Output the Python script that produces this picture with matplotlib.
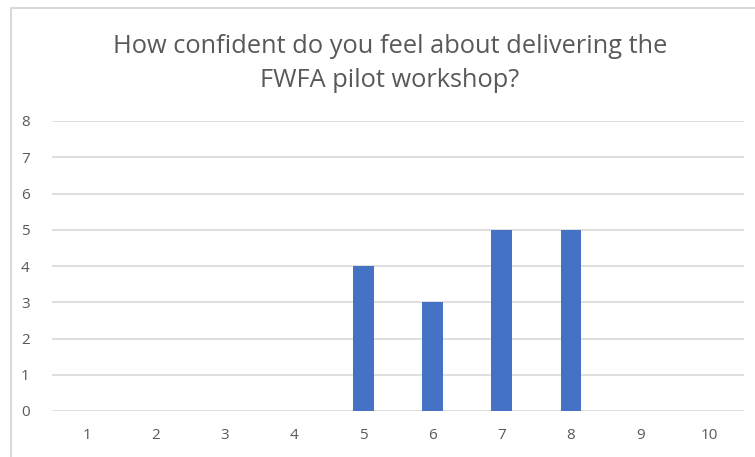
import matplotlib
matplotlib.use("Agg")
import matplotlib.pyplot as plt
from matplotlib.patches import Rectangle

categories = ["1", "2", "3", "4", "5", "6", "7", "8", "9", "10"]
counts = [0, 0, 0, 0, 4, 3, 5, 5, 0, 0]
yticks = [0, 1, 2, 3, 4, 5, 6, 7, 8]
title = "How confident do you feel about delivering the\nFWFA pilot workshop?"

plt.rcParams['font.family'] = ['Open Sans', 'DejaVu Sans']

W, H = 755, 457
fig = plt.figure(figsize=(W / 100, H / 100), dpi=100)
fig.patch.set_facecolor("white")

# chart border (cropped on right/bottom)
fig.patches.append(Rectangle((11 / W, -0.1), 1.2, (1 - 8 / H) + 0.1, transform=fig.transFigure,
                             fill=False, edgecolor="#D9D9D9", linewidth=1.5))

ax = fig.add_axes([52 / W, 1 - 411 / H, (744 - 52) / W, (411 - 121) / H])
x = list(range(len(categories)))
ax.bar(x, counts, width=0.30, color="#4472C4", zorder=3)
ax.set_xlim(-0.5, len(categories) - 0.5)
ax.set_ylim(0, 8)
ax.set_yticks(yticks)
ax.set_xticks(x)
ax.set_xticklabels(categories)
ax.grid(axis="y", color="#D9D9D9", linewidth=1.2, zorder=0)
for s in ax.spines.values():
    s.set_visible(False)
ax.tick_params(length=0, colors="#595959", labelsize=11)
ax.tick_params(axis="y", pad=16)
ax.tick_params(axis="x", pad=12)

fig.text(390 / W, 1 - 63.5 / H, title, ha="center", va="center", fontsize=18.3,
         color="#595959", linespacing=1.45)

fig.savefig("out.png", dpi=100)
